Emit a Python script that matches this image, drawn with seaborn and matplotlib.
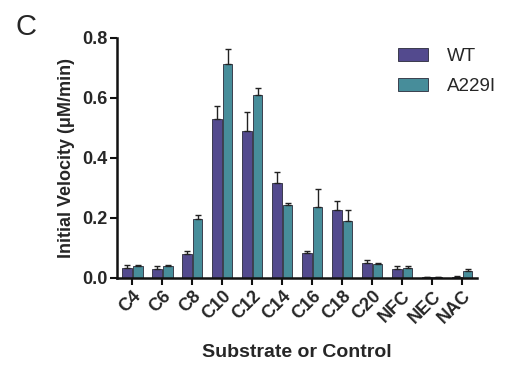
import numpy as np
import pandas as pd
import matplotlib
matplotlib.use("Agg")
import matplotlib.pyplot as plt
import seaborn as sns

# values
substrates = ['C4', 'C6', 'C8', 'C10', 'C12', 'C14', 'C16', 'C18', 'C20', 'NFC', 'NEC', 'NAC']
wt_mean = [0.034, 0.030, 0.080, 0.531, 0.488, 0.317, 0.083, 0.226, 0.051, 0.029, 0.002, 0.003]
wt_err = [0.009, 0.008, 0.008, 0.042, 0.066, 0.037, 0.008, 0.031, 0.007, 0.011, 0.001, 0.004]
mut_mean = [0.040, 0.040, 0.197, 0.714, 0.610, 0.242, 0.237, 0.188, 0.046, 0.033, 0.002, 0.022]
mut_err = [0.002, 0.004, 0.014, 0.049, 0.022, 0.007, 0.060, 0.039, 0.004, 0.006, 0.001, 0.009]
groups = ['WT', 'A229I']

df = pd.DataFrame({
    'Substrate': substrates * 2,
    'Enzyme': ['WT'] * len(substrates) + ['A229I'] * len(substrates),
    'Velocity': wt_mean + mut_mean,
    'Err': wt_err + mut_err,
})

sns.set_style("ticks")
plt.rcParams['font.family'] = ['Liberation Sans', 'DejaVu Sans']

palette = {'WT': '#4b3f99', 'A229I': '#3997a8'}

fig = plt.figure(figsize=(5.06, 3.71), dpi=100)
ax = fig.add_axes([0.232, 0.251, 0.711, 0.647])

sns.barplot(data=df, x='Substrate', y='Velocity', hue='Enzyme', order=substrates,
            hue_order=groups, palette=palette, width=0.72, gap=0.12,
            edgecolor='#2a2a3a', linewidth=0.6, errorbar=None, ax=ax)

# upper-only error bars placed on the drawn bars
for cont, g in zip(ax.containers, groups):
    sub = df[df['Enzyme'] == g].set_index('Substrate').loc[substrates]
    xs = [p.get_x() + p.get_width() / 2 for p in cont.patches]
    ax.errorbar(xs, sub['Velocity'], yerr=[np.zeros(len(xs)), sub['Err']],
                fmt='none', ecolor='#222222', elinewidth=1.0, capsize=2, capthick=1.0)

ax.set_ylim(0, 0.8)
ax.set_yticks([0.0, 0.2, 0.4, 0.6, 0.8])
ax.set_yticklabels(['0.0', '0.2', '0.4', '0.6', '0.8'], fontsize=13, fontweight='bold')
ax.set_xlim(-0.5, 11.5)
ax.set_xticks(range(len(substrates)))
ax.set_xticklabels(substrates, rotation=45, ha='right', rotation_mode='anchor',
                   fontsize=13, fontweight='bold')
ax.tick_params(axis='both', width=1.5, length=5, color='#111111', pad=2)
for s in ['left', 'bottom']:
    ax.spines[s].set_linewidth(1.8)
    ax.spines[s].set_color('#111111')
sns.despine(ax=ax)

ax.set_ylabel('Initial Velocity (\u03bcM/min)', fontsize=13, fontweight='bold', labelpad=5)
ax.set_xlabel('Substrate or Control', fontsize=14, fontweight='bold', labelpad=12)

ax.legend(title=None, frameon=False, fontsize=13.5, loc='upper right',
          bbox_to_anchor=(1.1, 1.03), handlelength=1.6, handleheight=0.7,
          labelspacing=0.7, handletextpad=1.0)

fig.text(0.03, 0.928, 'C', fontsize=21, va='center', ha='left')

fig.savefig('out.png', dpi=100)
